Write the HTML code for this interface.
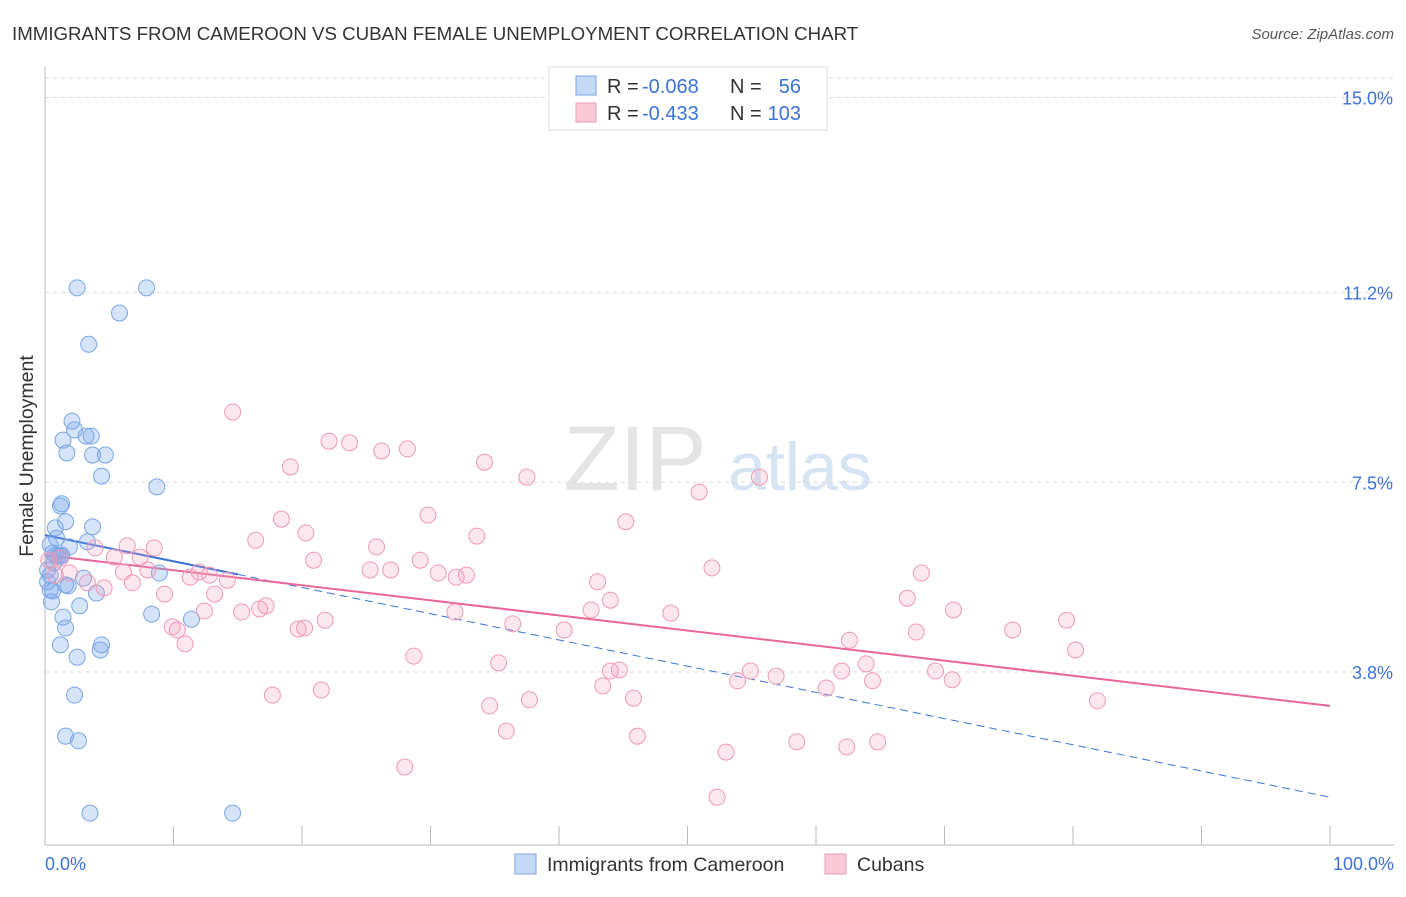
<!DOCTYPE html>
<html><head><meta charset="utf-8">
<style>
body{margin:0;background:#fff;font-family:"Liberation Sans",sans-serif;}
svg text{font-family:"Liberation Sans",sans-serif;}
</style></head>
<body>
<svg id="chart" width="1406" height="892">
<text x="12" y="40" font-size="18.7" fill="#333">IMMIGRANTS FROM CAMEROON VS CUBAN FEMALE UNEMPLOYMENT CORRELATION CHART</text>
<text x="1394" y="39" font-size="15" fill="#555" text-anchor="end" font-style="italic">Source: ZipAtlas.com</text>
<text x="33" y="456" font-size="19.5" fill="#333" text-anchor="middle" transform="rotate(-90 33 456)">Female Unemployment</text>
<g><text x="635" y="490" font-size="92" fill="#e4e4e4" font-family="Liberation Serif" text-anchor="middle">ZIP</text><text x="800" y="490" font-size="68" fill="#d6e4f3" text-anchor="middle">atlas</text></g>
<g id="grid"></g><g id="axes"></g><g id="trend"></g><g id="pts"></g>
<g>
<rect x="549" y="67" width="278" height="63" fill="#fff" stroke="#ddd"/>
<rect x="576" y="76" width="20" height="19" fill="#c4d9f5" stroke="#7aa7e6"/>
<rect x="576" y="103" width="20" height="19" fill="#f9c9d8" stroke="#ef9ab5"/>
<text x="607" y="93" font-size="20" fill="#333">R =</text>
<text x="642" y="93" font-size="20" fill="#3b73d6">-0.068</text>
<text x="730" y="93" font-size="20" fill="#333">N =</text>
<text x="801" y="93" font-size="20" fill="#3b73d6" text-anchor="end">56</text>
<text x="607" y="120" font-size="20" fill="#333">R =</text>
<text x="642" y="120" font-size="20" fill="#3b73d6">-0.433</text>
<text x="730" y="120" font-size="20" fill="#333">N =</text>
<text x="801" y="120" font-size="20" fill="#3b73d6" text-anchor="end">103</text>
</g>
<g>
<rect x="515" y="854" width="21" height="20" fill="#c4d9f5" stroke="#7aa7e6"/>
<text x="547" y="871" font-size="19.5" fill="#333">Immigrants from Cameroon</text>
<rect x="825" y="854" width="21" height="20" fill="#f9c9d8" stroke="#ef9ab5"/>
<text x="857" y="871" font-size="19.5" fill="#333">Cubans</text>
</g>
</svg>
<script>
const yTicks=[3.8,7.5,11.2,15.0];
const yTickLabels=["3.8%","7.5%","11.2%","15.0%"];
const xTickCount=10;
const blueX=[2.5,7.9,5.8,3.4,2.1,2.3,1.4,3.2,3.6,1.7,3.7,4.7,4.4,8.7,1.2,1.3,1.6,3.7,0.8,0.9,1.9,3.3,0.6,1.0,1.2,0.7,0.4,0.2,3.0,1.6,1.8,0.4,0.6,4.0,8.3,2.7,0.5,11.4,1.4,1.6,8.9,1.2,4.4,4.3,2.5,2.3,1.6,2.6,3.5,14.6,0.4,0.8,0.2,1.3];
const blueY=[11.29,11.29,10.80,10.19,8.69,8.52,8.32,8.40,8.40,8.07,8.03,8.03,7.62,7.41,7.04,7.08,6.73,6.63,6.61,6.41,6.24,6.34,6.12,6.06,6.06,5.93,5.69,5.56,5.63,5.50,5.48,5.40,5.38,5.34,4.93,5.09,5.17,4.83,4.87,4.66,5.73,4.33,4.33,4.23,4.09,3.35,2.55,2.46,1.05,1.05,6.28,6.08,5.79,6.08];
const pinkX=[14.6,22.1,23.7,26.2,28.2,19.1,34.2,37.5,55.6,50.9,29.8,18.4,45.2,20.3,33.6,16.4,25.8,3.9,6.4,8.5,7.4,5.4,20.9,29.2,51.9,25.3,26.9,30.6,32.0,32.8,68.2,43.0,1.2,1.9,0.8,3.3,4.6,6.8,9.3,11.3,12.0,12.8,14.2,13.2,12.4,15.3,16.7,17.2,8.0,6.1,44.0,42.5,48.7,31.9,67.1,70.7,19.7,20.2,21.8,36.4,40.4,9.9,10.3,10.9,62.6,67.8,75.3,79.5,80.2,28.7,35.3,44.0,44.7,63.9,54.9,56.9,62.0,69.3,70.6,53.9,64.4,43.4,60.8,45.8,37.7,21.5,17.7,34.6,81.9,35.9,46.1,58.5,64.8,62.4,53.0,28.0,52.3,0.3];
const pinkY=[8.87,8.30,8.27,8.11,8.15,7.80,7.89,7.60,7.60,7.31,6.86,6.78,6.73,6.51,6.45,6.37,6.24,6.22,6.26,6.22,6.04,6.04,5.98,5.98,5.83,5.79,5.79,5.73,5.65,5.69,5.73,5.56,6.02,5.73,5.69,5.54,5.44,5.54,5.32,5.65,5.75,5.69,5.59,5.32,4.99,4.97,5.03,5.09,5.79,5.75,5.20,5.01,4.95,4.97,5.24,5.01,4.64,4.66,4.81,4.74,4.62,4.68,4.62,4.35,4.42,4.58,4.62,4.81,4.23,4.11,3.98,3.82,3.84,3.96,3.82,3.72,3.82,3.82,3.65,3.63,3.63,3.53,3.49,3.29,3.26,3.45,3.35,3.14,3.24,2.65,2.55,2.44,2.44,2.34,2.24,1.95,1.36,5.98];
const blueTrend=[6.47,1.36];
const blueSolidEnd=15;
const pinkTrend=[6.08,3.14];
const NS="http://www.w3.org/2000/svg";
const X=v=>45+v*12.85, Y=v=>867-v*51.3;
function mk(tag,attrs,parent){const e=document.createElementNS(NS,tag);for(const k in attrs)e.setAttribute(k,attrs[k]);document.getElementById(parent).appendChild(e);return e;}
yTicks.forEach((t,i)=>{
 const l=mk('line',{x1:45,x2:1394,y1:Y(t),y2:Y(t),stroke:'#ddd','stroke-dasharray':'4,4'},'grid');
 
 
 const tx=mk('text',{x:1393,y:Y(t)+7,'font-size':18,fill:'#3b73d6','text-anchor':'end'},'grid');
 tx.textContent=yTickLabels[i];
 
 
});
const topLine=mk('line',{x1:45,x2:1394,y1:78,y2:78,stroke:'#ddd','stroke-dasharray':'4,4'},'grid');


const ya=mk('line',{x1:45,x2:45,y1:67,y2:845,stroke:'#bbb'},'axes');


const xa=mk('line',{x1:45,x2:1394,y1:845,y2:845,stroke:'#bbb'},'axes');


for(let i=0;i<=xTickCount;i++){
 const v=i*100/xTickCount;
 const t=mk('line',{x1:X(v),x2:X(v),y1:826,y2:845,stroke:'#bbb'},'axes');
 
 
}
const xl0=mk('text',{x:45,y:870,'font-size':18,fill:'#3b73d6'},'axes');xl0.textContent='0.0%';


const xl1=mk('text',{x:1394,y:870,'font-size':18,fill:'#3b73d6','text-anchor':'end'},'axes');xl1.textContent='100.0%';


blueX.forEach((x,i)=>{
 const c=mk('circle',{cx:X(x),cy:Y(blueY[i]),r:8,fill:'rgba(120,165,235,0.3)',stroke:'#7aa7e6','stroke-width':1},'pts');
 
 
});
pinkX.forEach((x,i)=>{
 const c=mk('circle',{cx:X(x),cy:Y(pinkY[i]),r:8,fill:'rgba(245,160,190,0.25)',stroke:'#ef9ab5','stroke-width':1},'pts');
 
 
});
const by=x=>blueTrend[0]+(blueTrend[1]-blueTrend[0])*x/100;
const b1=mk('line',{x1:X(0),y1:Y(by(0)),x2:X(blueSolidEnd),y2:Y(by(blueSolidEnd)),stroke:'#3b73d6','stroke-width':2},'trend');


const b2=mk('line',{x1:X(blueSolidEnd),y1:Y(by(blueSolidEnd)),x2:X(100),y2:Y(by(100)),stroke:'#3b73d6','stroke-width':1,'stroke-dasharray':'8,5'},'trend');


const p1=mk('line',{x1:X(0),y1:Y(pinkTrend[0]),x2:X(100),y2:Y(pinkTrend[1]),stroke:'#e8679a','stroke-width':2},'trend');


</script>
</body></html>
